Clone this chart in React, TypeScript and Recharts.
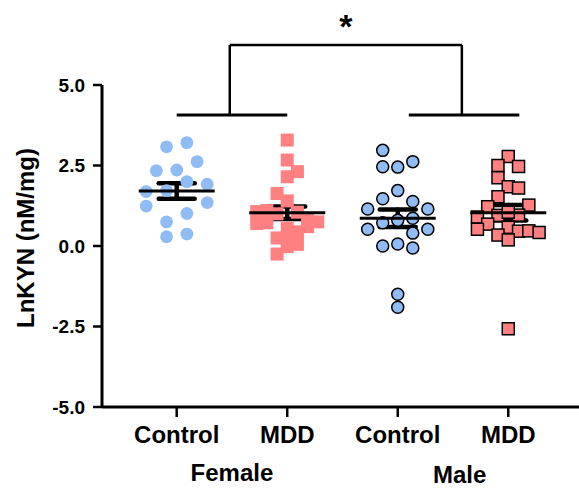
import { ScatterChart, Scatter, XAxis, YAxis, ErrorBar, ReferenceLine, ReferenceDot } from "recharts";

// x categories and group captions
const categories = ["Control", "MDD", "Control", "MDD"];
const groupNames = ["Female", "Male"];
const groupCenters = [1.5, 3.56];

// LnKYN values, with the column each dot sits in (beeswarm jitter)
const femaleControlValues = [3.08, 3.21, 2.62, 2.34, 2.36, 2.0, 1.92, 1.69, 1.72, 1.35, 1.24, 1.01, 0.75, 0.29, 0.37];
const femaleControlCols = [-1, 1, 2, -2, 0, 1, 3, -3, -1, 3, -3, 1, -1, -1, 1];

const femaleMddValues = [3.29, 2.67, 2.31, 2.15, 1.63, 1.4, 1.07, 1.1, 1.0, 0.7, 0.72, 1.05, 0.82, 0.75, 0.6, 0.44, 0.55, 0.25, 0.2, 0.05, -0.02, -0.25];
const femaleMddCols = [0, 0, 1, 0, -1, 0, -3, -2, -1, -3, -2, 1, 2, 3, 2, 1, 0, -1, 0, 1, 0, -1];

const maleControlValues = [2.97, 2.46, 2.45, 2.62, 1.72, 1.47, 1.38, 1.15, 1.15, 0.72, 0.8, 0.86, 0.52, 0.52, 0.4, 0.0, 0.06, -0.06, -1.5, -1.9];
const maleControlCols = [-1, -1, 0, 1, 0, -1, 1, -2, 2, -1, 0, 1, -2, 2, 1, -1, 0, 1, 0, 0];

const maleMddValues = [2.78, 2.5, 2.47, 2.12, 1.84, 1.8, 1.53, 1.22, 1.27, 0.9, 0.95, 0.96, 0.68, 0.58, 0.52, 0.46, 0.47, 0.42, 0.34, 0.19, -2.57, 1.05];
const maleMddCols = [0, -1, 1, -1, 0, 1, -1, -2, 2, -3, -1, 1, -2, 0, -3, 1, 2, 3, -1, 0, 0, 0];

// mean +/- SEM per group
const means = [1.71, 1.03, 0.86, 1.03];
const sems = [0.24, 0.195, 0.27, 0.24];

const yTicks = [-5, -2.5, 0, 2.5, 5];

const BLUE = "#8FBCF5";
const PINK = "#FF8080";
const FONT = "Arial, 'Liberation Sans', Helvetica, sans-serif";
const X_DOMAIN = [0.324, 4.64];

const toPoints = (values: number[], cols: number[], pos: number, step: number) =>
  values.map((y, i) => ({ x: pos + cols[i] * step, y }));

const fcData = toPoints(femaleControlValues, femaleControlCols, 1, 0.092);
const fmData = toPoints(femaleMddValues, femaleMddCols, 2, 0.092);
const mcData = toPoints(maleControlValues, maleControlCols, 3, 0.136);
const mmData = toPoints(maleMddValues, maleMddCols, 4, 0.093);
const summary = means.map((m, i) => ({ x: i + 1, y: m, sem: sems[i] }));

const dot = (fill: string, outlined: boolean) => (p: any) => (
  <circle cx={p.cx} cy={p.cy} r={outlined ? 6 : 6.4} fill={fill} stroke={outlined ? "#000" : "none"} strokeWidth={1.5} />
);
const square = (fill: string, outlined: boolean) => (p: any) => {
  const s = outlined ? 12 : 13;
  return (
    <rect x={p.cx - s / 2} y={p.cy - s / 2} width={s} height={s} fill={fill} stroke={outlined ? "#000" : "none"} strokeWidth={1.5} />
  );
};
const meanLine = (p: any) => (
  <line x1={p.cx - 38} x2={p.cx + 38} y1={p.cy} y2={p.cy} stroke="#000" strokeWidth={3} />
);

function YLabel({ viewBox }: any) {
  const cx = 25;
  const cy = viewBox.y + viewBox.height / 2 - 8;
  return (
    <text
      x={cx}
      y={cy}
      transform={`rotate(-90 ${cx} ${cy})`}
      textAnchor="middle"
      dominantBaseline="central"
      fontFamily={FONT}
      fontSize={24}
      fontWeight="bold"
      fill="#000"
    >
      LnKYN (nM/mg)
    </text>
  );
}

const line = { stroke: "#000", strokeWidth: 2.5 };
const labelStyle = { fontSize: 24, fontWeight: "bold", fill: "#000", fontFamily: FONT };

export default function App() {
  return (
    <div style={{ position: "absolute", left: 0, top: 0, background: "#fff" }}>
      <ScatterChart width={579} height={488} margin={{ top: 85, right: 0, bottom: 0, left: 0 }}>
        <XAxis
          type="number"
          dataKey="x"
          domain={X_DOMAIN}
          allowDataOverflow
          ticks={[1, 2, 3, 4]}
          interval={0}
          tickFormatter={(v) => categories[v - 1]}
          height={81}
          tickSize={10}
          tickMargin={9}
          axisLine={{ stroke: "#000", strokeWidth: 3 }}
          tickLine={line}
          tick={labelStyle}
        />
        <YAxis
          type="number"
          dataKey="y"
          domain={[-5, 5]}
          ticks={yTicks}
          interval={0}
          width={102}
          tickSize={9}
          tickMargin={8}
          tickFormatter={(v) => v.toFixed(1)}
          axisLine={{ stroke: "#000", strokeWidth: 3 }}
          tickLine={line}
          tick={{ fontSize: 19, fontWeight: "bold", fill: "#000", fontFamily: FONT }}
          label={<YLabel />}
        />

        {/* significance bracket */}
        <ReferenceLine segment={[{ x: 1.0, y: 4.07 }, { x: 2.0, y: 4.07 }]} ifOverflow="visible" stroke="#000" strokeWidth={3} />
        <ReferenceLine segment={[{ x: 3.1, y: 4.07 }, { x: 4.1, y: 4.07 }]} ifOverflow="visible" stroke="#000" strokeWidth={3} />
        <ReferenceLine segment={[{ x: 1.48, y: 4.07 }, { x: 1.48, y: 6.24 }]} ifOverflow="visible" stroke="#000" strokeWidth={2.5} />
        <ReferenceLine segment={[{ x: 3.58, y: 4.07 }, { x: 3.58, y: 6.24 }]} ifOverflow="visible" stroke="#000" strokeWidth={2.5} />
        <ReferenceLine
          segment={[{ x: 1.48, y: 6.24 }, { x: 3.58, y: 6.24 }]}
          ifOverflow="visible"
          stroke="#000"
          strokeWidth={2.5}
          label={{ value: "*", position: "top", offset: 7, fontSize: 34, fontWeight: "bold", fill: "#000", fontFamily: FONT }}
        />

        {/* sex captions under the category ticks */}
        {groupNames.map((name, i) => (
          <ReferenceDot
            key={name}
            x={groupCenters[i]}
            y={-5}
            r={0}
            fill="none"
            stroke="none"
            ifOverflow="visible"
            label={{ value: name, position: "bottom", offset: i === 0 ? 57 : 59, ...labelStyle }}
          />
        ))}

        <Scatter data={fcData} shape={dot(BLUE, false)} isAnimationActive={false} />
        <Scatter data={fmData} shape={square(PINK, false)} isAnimationActive={false} />
        <Scatter data={mcData} shape={dot(BLUE, true)} isAnimationActive={false} />
        <Scatter data={mmData} shape={square(PINK, true)} isAnimationActive={false} />
        <Scatter data={summary} shape={meanLine} isAnimationActive={false}>
          <ErrorBar dataKey="sem" direction="y" width={18} stroke="#000" strokeWidth={4.5} strokeLinecap="round" />
        </Scatter>
      </ScatterChart>
    </div>
  );
}
